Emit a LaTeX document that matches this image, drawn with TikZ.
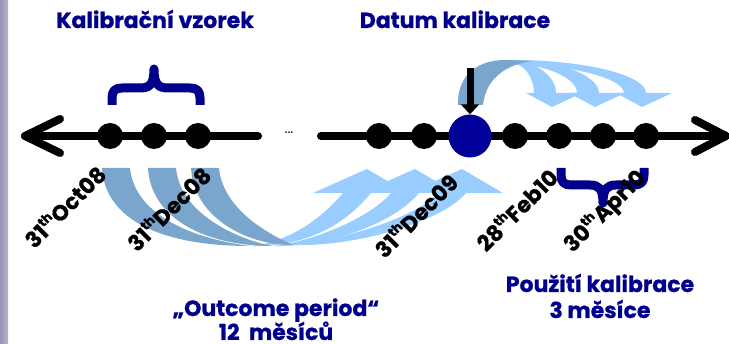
\documentclass[tikz,border=0pt]{standalone}
\usepackage{fontspec}
\setmainfont{Poppins}[BoldFeatures={FakeBold=0.8}]
\usetikzlibrary{arrows.meta,calc}
\definecolor{navy}{RGB}{0,0,140}
\definecolor{dotblue}{RGB}{0,0,153}
\definecolor{ribbonback}{RGB}{122,165,204}
\definecolor{ribbonfront}{RGB}{153,204,255}
\definecolor{stripdark}{RGB}{150,150,180}
\definecolor{striplight}{RGB}{180,180,204}
\newcommand{\thsup}{\raisebox{0.75ex}{\fontsize{13}{13}\selectfont th}}
\begin{document}
\begin{tikzpicture}[x=1pt,y=-1pt,
  axis/.style={line width=8pt,line cap=round,line join=round,black},
  tick/.style={circle,fill=black,minimum size=26pt,inner sep=0pt},
  caldot/.style={circle,fill=dotblue,minimum size=43pt,inner sep=0pt},
  heading/.style={text=navy,font=\bfseries\fontsize{22}{27}\selectfont,anchor=base,inner sep=0pt,text depth=0pt},
  datelabel/.style={font=\bfseries\fontsize{22}{24}\selectfont,rotate=45,anchor=base east,inner sep=0pt},
  brace/.style={navy,line width=9pt,line join=round},
  back/.style={fill=ribbonback},
  front/.style={fill=ribbonfront}]
\useasboundingbox (0,0) rectangle (729,344);
% side strip
\shade[left color=stripdark,right color=striplight] (0,0) rectangle (8,344);

% ribbons below the axis: back faces of the tails, front faces with heads
\foreach \tl/\ax/\px/\py in {191/462/294/245, 148/415/272/246, 102/367/250/246}{
  \fill[front] (\px,\py) .. controls ({\px+60},247) and ({\ax-20},222) .. ({\ax+4},193)
     -- ({\ax+41},193) -- (\ax,169) -- ({\ax-54},193) -- ({\ax-24},193)
     .. controls ({\ax-45},218) and ({\px+40},242) .. (\px,\py) -- cycle;
}
\foreach \tl/\px/\py in {191/294/245, 148/272/246, 102/250/246}{
  \fill[back] (\tl,168) .. controls ({\tl+3},220) and ({\tl+60},246) .. (\px,\py)
     .. controls ({\tl+85},238) and ({\tl+32},212) .. ({\tl+28},168) -- cycle;
}

% ribbons above the axis, leaving the calibration date
\foreach \ax in {642,595,552}{
  \fill[front] (505,60) .. controls ({505+0.55*(\ax+4-505)},59) and ({\ax+4},75) .. ({\ax+4},93)
     -- ({\ax+30},93) -- (\ax,107) -- ({\ax-26},93) -- ({\ax-18},93)
     .. controls ({\ax-18},78) and ({\ax-18-0.5*(\ax-18-515)},65) .. (515,64) -- cycle;
}
\fill[back] (458,105) .. controls (457,75) and (478,60) .. (505,60) -- (533,61)
   .. controls (512,63) and (486,75) .. (483,105) -- cycle;

% time axis
\coordinate (Ltip) at (25,136);
\coordinate (Lend) at (258,136);
\coordinate (Rstart) at (321,136);
\coordinate (Rtip) at (726,136);
\draw[axis] (Ltip) -- (Lend);
\draw[axis] (Rstart) -- (Rtip);
\draw[axis] ($(Ltip)+(35,-17)$) -- (Ltip) -- ($(Ltip)+(35,17)$);
\draw[axis] ($(Rtip)+(-31,-16)$) -- (Rtip) -- ($(Rtip)+(-31,16)$);
\node[font=\fontsize{14}{14}\selectfont,inner sep=0pt,anchor=base] (gap) at (289,134) {...};

% months on the axis
\node[tick] (oct08) at (110,136) {};
\node[tick] (nov08) at (154,136) {};
\node[tick] (dec08) at (198,136) {};
\node[tick] (nov09) at (379,136) {};
\node[tick] (dec09b) at (424,136) {};
\node[caldot] (cal) at (470,136) {};
\node[tick] (jan10) at (515,136) {};
\node[tick] (feb10) at (559,136) {};
\node[tick] (mar10) at (603,136) {};
\node[tick] (apr10) at (646,136) {};

% pointer to the calibration date
\coordinate (ptr) at (470,68);
\draw[line width=7pt,-{Triangle[length=10pt,width=18pt]}] (ptr) -- (cal.north);

% braces
\draw[brace] (112,105) -- (112,98) .. controls (112,91) and (115,88) .. (122,88)
  -- (140,88) .. controls (150,88) and (154,84) .. (154,69)
  .. controls (154,84) and (158,88) .. (168,88) -- (190,88)
  .. controls (197,88) and (200,91) .. (200,98) -- (200,105);
\draw[brace] (561,168) -- (561,175) .. controls (561,182) and (564,185) .. (571,185)
  -- (590,185) .. controls (599,185) and (603,189) .. (603,203)
  .. controls (603,189) and (607,185) .. (616,185) -- (634,185)
  .. controls (641,185) and (644,182) .. (644,175) -- (644,168);

% headings
\node[heading] (sample) at (155,28) {Kalibrační vzorek};
\node[heading] (date) at (455,28) {Datum kalibrace};
\node[heading] (outcome) at (276,316) {„Outcome period“};
\node[heading] (twelve) at (276,340) {12~~měsíců};
\node[heading] (usage) at (600,292) {Použití kalibrace};
\node[heading] (three) at (600,318) {3 měsíce};

% dates
\node[datelabel] (loct) at (108,176) {31\thsup Oct08};
\node[datelabel] (ldec) at (213,177) {31\thsup Dec08};
\node[datelabel] (ldecb) at (460,184) {31\thsup Dec09};
\node[datelabel] (lfeb) at (560,179) {28\thsup Feb10};
\node[datelabel] (lapr) at (647,179) {30\thsup Apr10};
\end{tikzpicture}
\end{document}
